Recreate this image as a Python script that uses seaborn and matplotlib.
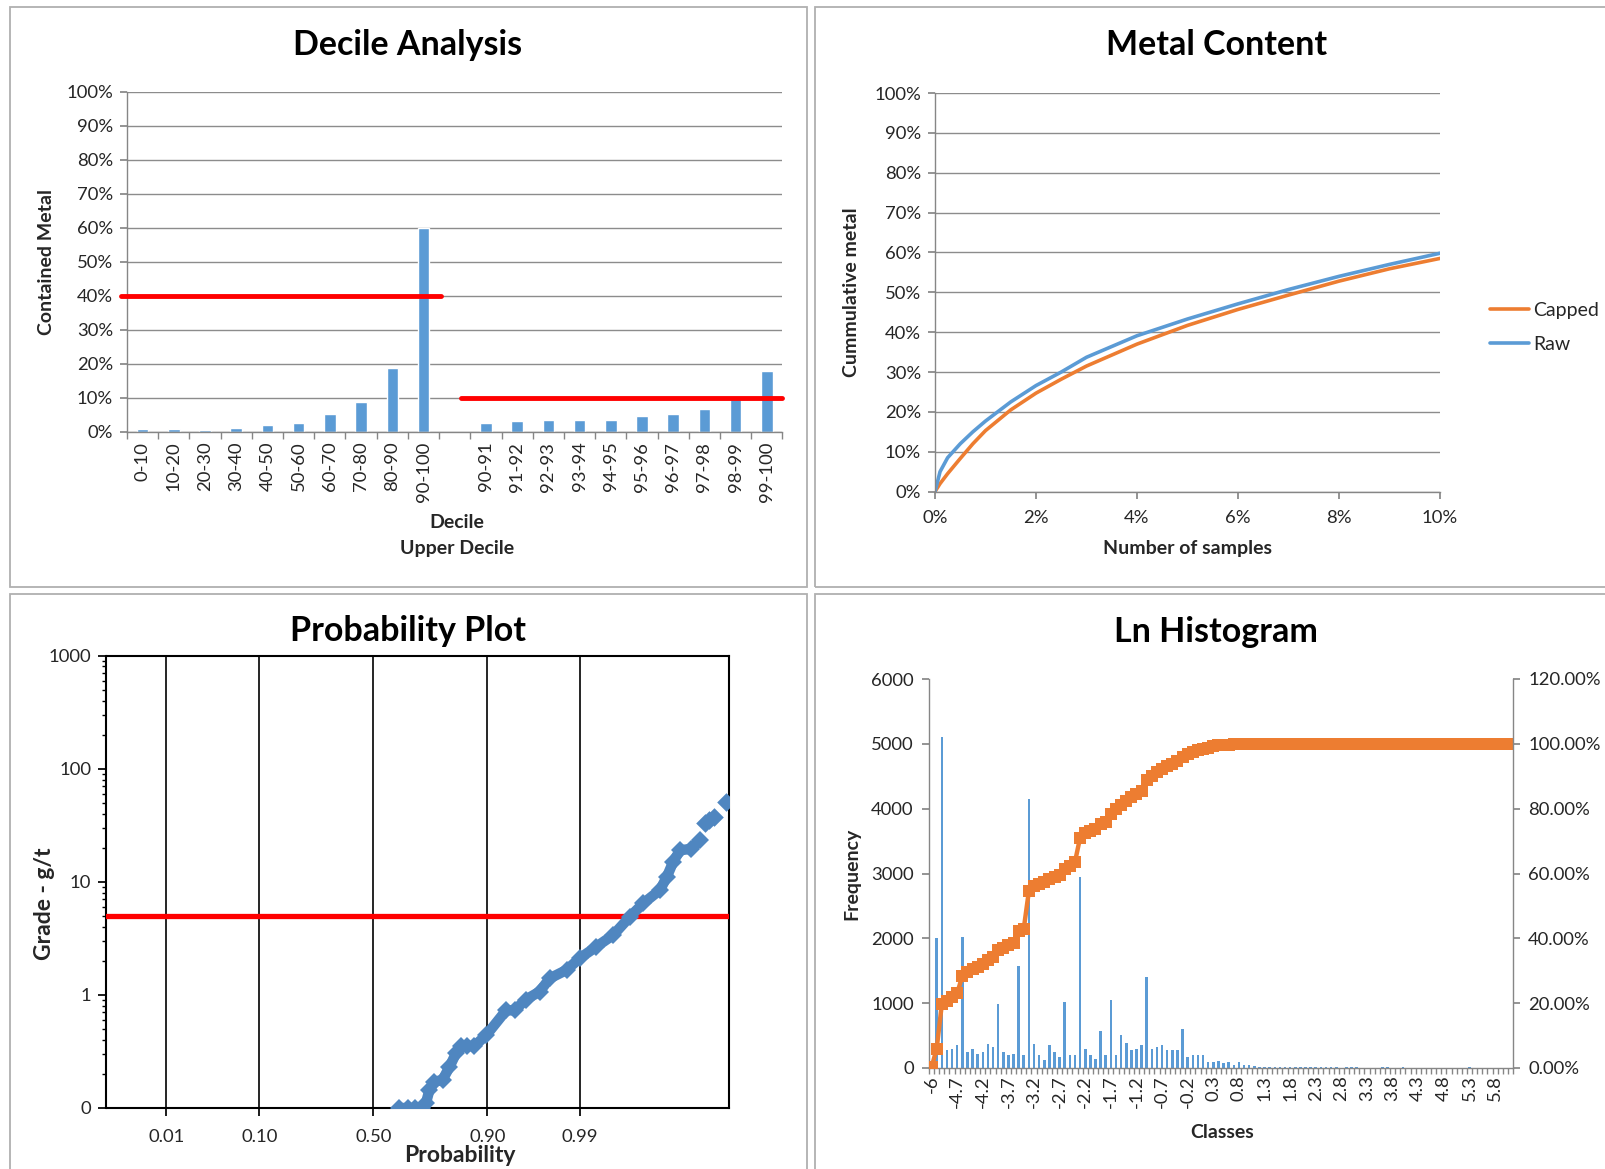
import numpy as np
import seaborn as sns
import matplotlib.pyplot as plt
from matplotlib.patches import Rectangle
from matplotlib.ticker import MultipleLocator, PercentFormatter, NullLocator, LogLocator, NullFormatter
from statistics import NormalDist

sns.set_theme(style="white")
plt.rcParams['font.family'] = ['Lato', 'DejaVu Sans']

BLUE = '#5B9BD5'
ORANGE = '#ED7D31'
RED = '#FF0000'
DOT = '#4F86C0'
GRID = '#8C8C8C'
AXIS = '#868686'
FRAME = '#B0B0B0'
TXT = '#262626'
TICK_FS = 13.3
TITLE_FS = 24.5
LABEL_FS = 14

# ---------------- data ----------------
# decile analysis
decile_labels = ['0-10', '10-20', '20-30', '30-40', '40-50', '50-60', '60-70', '70-80', '80-90', '90-100']
decile_metal = [0.008, 0.008, 0.007, 0.012, 0.022, 0.027, 0.052, 0.087, 0.187, 0.601]
upper_labels = ['90-91', '91-92', '92-93', '93-94', '94-95', '95-96', '96-97', '97-98', '98-99', '99-100']
upper_metal = [0.027, 0.032, 0.036, 0.036, 0.036, 0.048, 0.052, 0.067, 0.096, 0.178]
decile_cut = 0.40
upper_cut = 0.10

# metal content
samples = [0, 0.001, 0.0025, 0.005, 0.0075, 0.01, 0.015, 0.02, 0.025, 0.03, 0.04, 0.05, 0.06, 0.07, 0.08, 0.09, 0.10]
raw_metal = [0, 0.05, 0.085, 0.12, 0.15, 0.177, 0.225, 0.266, 0.30, 0.337, 0.391, 0.433, 0.471, 0.507, 0.540, 0.570, 0.598]
capped_metal = [0, 0.02, 0.045, 0.083, 0.12, 0.153, 0.205, 0.247, 0.282, 0.315, 0.37, 0.417, 0.457, 0.493, 0.528, 0.559, 0.585]

# probability plot
prob_main = [0.614, 0.65, 0.68, 0.709, 0.723, 0.736, 0.754, 0.782, 0.804, 0.824, 0.838, 0.855, 0.872,
             0.898, 0.9325, 0.944, 0.957, 0.9693, 0.9764, 0.9851, 0.9899, 0.99396, 0.99653, 0.99805,
             0.99881, 0.99937, 0.99952, 0.99963, 0.99972, 0.99982, 0.99988]
grade_main = [0.1, 0.1, 0.1, 0.1, 0.11, 0.144, 0.171, 0.177, 0.23, 0.305, 0.353, 0.353, 0.353,
              0.44, 0.73, 0.73, 0.91, 1.07, 1.40, 1.66, 2.11, 2.67, 3.39, 4.91,
              6.46, 8.47, 11.1, 15.1, 19.0, 19.5, 23.4]
prob_tail = [0.999904, 0.99992, 0.999936, 0.999963]
grade_tail = [32.9, 35.0, 37.7, 51.0]
cap_grade = 5
prob_ticks = [0.01, 0.10, 0.50, 0.90, 0.99]

# ln histogram
ln_classes = ['-6'] + [f"{v:g}" for v in np.round(np.arange(-51, 62) / 10, 1)]
ln_freq = [
    0, 2000, 5100, 270, 295, 350, 2020, 250, 295, 220,
    245, 375, 330, 990, 245, 195, 220, 1570, 195, 4150,
    375, 195, 120, 355, 245, 170, 1015, 195, 195, 2940,
    300, 195, 145, 570, 195, 1045, 195, 515, 380, 275,
    300, 350, 1410, 300, 330, 355, 275, 275, 275, 600,
    170, 195, 195, 195, 90, 90, 115, 77, 100, 50,
    100, 50, 40, 30, 10, 10, 10, 10, 10, 10,
    10, 10, 10, 10, 10, 10, 10, 10, 10, 10,
    0, 8, 8, 8, 0, 0, 0, 0, 8, 8,
    0, 0, 8, 0, 0, 0, 0, 0, 0, 0,
    0, 0, 0, 0, 0, 12, 0, 0, 0, 0,
    0, 0, 0, 0]
ln_cum = [
    0.002, 0.060, 0.196, 0.208, 0.219, 0.230, 0.284, 0.296, 0.304, 0.311,
    0.320, 0.332, 0.343, 0.364, 0.371, 0.379, 0.387, 0.423, 0.430, 0.546,
    0.560, 0.567, 0.574, 0.582, 0.588, 0.594, 0.613, 0.624, 0.636, 0.711,
    0.725, 0.732, 0.737, 0.753, 0.758, 0.784, 0.799, 0.811, 0.825, 0.835,
    0.845, 0.856, 0.887, 0.902, 0.912, 0.923, 0.931, 0.938, 0.948, 0.959,
    0.969, 0.976, 0.982, 0.985, 0.987, 0.992, 0.995, 0.996, 0.997, 0.998,
    0.9985, 0.999, 0.9995] + [1.0] * 51

# ---------------- figure ----------------
W, H = 1606, 1169
fig = plt.figure(figsize=(W / 100, H / 100), dpi=100)


def box(l, t, r, b):
    return [l / W, 1 - b / H, (r - l) / W, (b - t) / H]


def ftext(x, y, s, **kw):
    fig.text(x / W, 1 - y / H, s, ha='center', va='center', **kw)


# chart frames
for (l, t, r, b) in [(10, 7, 807, 587), (815, 7, 1640, 587), (10, 594, 807, 1200), (815, 594, 1640, 1200)]:
    fig.add_artist(Rectangle((l / W, 1 - b / H), (r - l) / W, (b - t) / H, transform=fig.transFigure,
                             fill=False, ec=FRAME, lw=1.3))


def excel_spines(ax, sides=('left', 'bottom')):
    for s in ['left', 'right', 'top', 'bottom']:
        ax.spines[s].set_visible(s in sides)
        ax.spines[s].set_color(AXIS)
        ax.spines[s].set_linewidth(1)


# ---- Decile Analysis ----
ax1 = fig.add_axes(box(127, 92, 782.5, 432))
all_labels = decile_labels + [''] + upper_labels
all_values = decile_metal + [np.nan] + upper_metal
sns.barplot(x=all_labels, y=all_values, order=all_labels, color=BLUE, saturation=1,
            width=0.37, errorbar=None, ax=ax1)
ax1.set_xlim(-0.5, 20.5)
ax1.set_ylim(0, 1)
ax1.yaxis.set_major_locator(MultipleLocator(0.1))
ax1.yaxis.set_major_formatter(PercentFormatter(1, decimals=0))
ax1.grid(axis='y', color=GRID, lw=1)
ax1.set_axisbelow(True)
excel_spines(ax1)
ax1.set_xticks(range(21))
ax1.set_xticklabels(all_labels, rotation=90)
ax1.set_xticks(np.arange(-0.5, 21, 1), minor=True)
ax1.tick_params(axis='x', which='major', length=0, pad=7, labelsize=TICK_FS, labelcolor=TXT)
ax1.tick_params(axis='x', which='minor', bottom=True, length=5, color=AXIS, direction='out')
ax1.tick_params(axis='y', left=True, length=5, color=AXIS, direction='out', pad=5,
                labelsize=TICK_FS, labelcolor=TXT)
ax1.set_xlabel('')
ax1.set_ylabel('')
ax1.plot([-0.7, 9.55], [decile_cut, decile_cut], color=RED, lw=3.5, clip_on=False, zorder=5)
ax1.plot([10.2, 20.5], [upper_cut, upper_cut], color=RED, lw=3.5, clip_on=False, zorder=5)
ftext(408, 45, 'Decile Analysis', fontsize=TITLE_FS, fontweight='bold', color='black')
ftext(47, 262, 'Contained Metal', fontsize=LABEL_FS, fontweight='bold', rotation=90, color=TXT)
ftext(457, 523, 'Decile', fontsize=LABEL_FS, fontweight='bold', color=TXT)
ftext(457, 549, 'Upper Decile', fontsize=LABEL_FS, fontweight='bold', color=TXT)

# ---- Metal Content ----
ax2 = fig.add_axes(box(935, 93, 1440, 491.6))
sns.lineplot(x=samples, y=capped_metal, color=ORANGE, lw=2.6, label='Capped', ax=ax2)
sns.lineplot(x=samples, y=raw_metal, color=BLUE, lw=2.6, label='Raw', ax=ax2)
ax2.set_xlim(0, 0.10)
ax2.set_ylim(0, 1)
ax2.xaxis.set_major_locator(MultipleLocator(0.02))
ax2.yaxis.set_major_locator(MultipleLocator(0.1))
ax2.xaxis.set_major_formatter(PercentFormatter(1, decimals=0))
ax2.yaxis.set_major_formatter(PercentFormatter(1, decimals=0))
ax2.grid(axis='y', color=GRID, lw=1)
ax2.set_axisbelow(True)
excel_spines(ax2)
ax2.tick_params(axis='x', bottom=True, length=5, color=AXIS, direction='out', pad=8,
                labelsize=TICK_FS, labelcolor=TXT)
ax2.tick_params(axis='y', left=True, length=5, color=AXIS, direction='out', pad=5,
                labelsize=TICK_FS, labelcolor=TXT)
ax2.set_xlabel('')
ax2.set_ylabel('')
ax2.legend(loc='center left', bbox_to_anchor=(1.099, 0.412), frameon=False, fontsize=LABEL_FS,
           handlelength=2.0, handletextpad=0.2, labelspacing=0.85, borderpad=0, borderaxespad=0)
ftext(1217, 45, 'Metal Content', fontsize=TITLE_FS, fontweight='bold', color='black')
ftext(852, 292, 'Cummulative metal', fontsize=LABEL_FS, fontweight='bold', rotation=90, color=TXT)
ftext(1188, 549, 'Number of samples', fontsize=LABEL_FS, fontweight='bold', color=TXT)

# ---- Probability Plot ----
nd = NormalDist()
_ppf = np.vectorize(nd.inv_cdf, otypes=[float])
_cdf = np.vectorize(nd.cdf, otypes=[float])


def prob_forward(p):
    return _ppf(np.clip(np.asarray(p, dtype=float), 1e-10, 1 - 1e-10))


def prob_inverse(z):
    return _cdf(np.asarray(z, dtype=float))


ax3 = fig.add_axes(box(106.5, 655.5, 729, 1108))
ax3.set_xscale('function', functions=(prob_forward, prob_inverse))
ax3.set_yscale('log')
ax3.axhline(cap_grade, color=RED, lw=3.8, zorder=3)
sns.lineplot(x=prob_main, y=grade_main, color=DOT, lw=7.5, marker='D', markersize=9.5,
             markeredgewidth=0, estimator=None, sort=False, ax=ax3, zorder=4)
sns.scatterplot(x=prob_tail, y=grade_tail, color=DOT, marker='D', s=90, linewidth=0, ax=ax3, zorder=4)
ax3.set_xlim(nd.cdf(-3), nd.cdf(4))
ax3.set_ylim(0.1, 1000)
ax3.set_xticks(prob_ticks)
ax3.set_xticklabels([f"{p:.2f}" for p in prob_ticks])
ax3.xaxis.set_minor_locator(NullLocator())
ax3.set_yticks([0.1, 1, 10, 100, 1000])
ax3.set_yticklabels(['0', '1', '10', '100', '1000'])
ax3.yaxis.set_minor_locator(LogLocator(base=10, subs=np.arange(2, 10)))
ax3.yaxis.set_minor_formatter(NullFormatter())
ax3.grid(axis='x', color='black', lw=1.2)
ax3.grid(axis='y', visible=False)
for s in ax3.spines.values():
    s.set_visible(True)
    s.set_color('black')
    s.set_linewidth(1.5)
ax3.tick_params(axis='x', bottom=True, length=6, color='black', direction='out', pad=9,
                labelsize=TICK_FS, labelcolor=TXT)
ax3.tick_params(axis='y', which='major', left=True, length=6, color='black', direction='out', pad=5,
                labelsize=TICK_FS, labelcolor=TXT)
ax3.tick_params(axis='y', which='minor', left=True, length=3, color='black', direction='out')
ax3.set_xlabel('')
ax3.set_ylabel('')
ftext(408, 631, 'Probability Plot', fontsize=TITLE_FS, fontweight='bold', color='black')
ftext(45, 904, 'Grade - g/t', fontsize=16.5, fontweight='bold', rotation=90, color=TXT)
ftext(460, 1156, 'Probability', fontsize=16.5, fontweight='bold', color=TXT)

# ---- Ln Histogram ----
ax4 = fig.add_axes(box(929, 679, 1513, 1068))
n_cls = len(ln_classes)
sns.barplot(x=ln_classes, y=ln_freq, order=ln_classes, color=BLUE, saturation=1,
            width=0.5, linewidth=0, errorbar=None, ax=ax4)
ax5 = ax4.twinx()
sns.lineplot(x=np.arange(n_cls), y=ln_cum, color=ORANGE, lw=3.2, marker='s', markersize=8,
             markeredgewidth=0, estimator=None, sort=False, ax=ax5)
ax4.set_xlim(-0.5, n_cls - 0.5)
ax4.set_ylim(0, 6000)
ax5.set_ylim(0, 1.2)
ax4.yaxis.set_major_locator(MultipleLocator(1000))
ax5.yaxis.set_major_locator(MultipleLocator(0.2))
ax5.yaxis.set_major_formatter(PercentFormatter(1, decimals=2))
excel_spines(ax4, ('left', 'bottom'))
excel_spines(ax5, ('right',))
ax4.set_xticks(range(0, n_cls, 5))
ax4.set_xticklabels(ln_classes[::5], rotation=90)
ax4.set_xticks(np.arange(-0.5, n_cls, 1), minor=True)
ax4.tick_params(axis='x', which='major', length=0, pad=5, labelsize=TICK_FS, labelcolor=TXT)
ax4.tick_params(axis='x', which='minor', bottom=True, length=4, color=AXIS, direction='out')
ax4.tick_params(axis='y', left=True, length=5, color=AXIS, direction='out', pad=6,
                labelsize=TICK_FS, labelcolor=TXT)
ax5.tick_params(axis='y', right=True, length=5, color=AXIS, direction='out', pad=6,
                labelsize=TICK_FS, labelcolor=TXT)
for a in (ax4, ax5):
    a.set_xlabel('')
    a.set_ylabel('')
ftext(1216, 632, 'Ln Histogram', fontsize=TITLE_FS, fontweight='bold', color='black')
ftext(852, 874, 'Frequency', fontsize=LABEL_FS, fontweight='bold', rotation=90, color=TXT)
ftext(1222, 1133, 'Classes', fontsize=LABEL_FS, fontweight='bold', color=TXT)

fig.savefig('out.png', dpi=100)
